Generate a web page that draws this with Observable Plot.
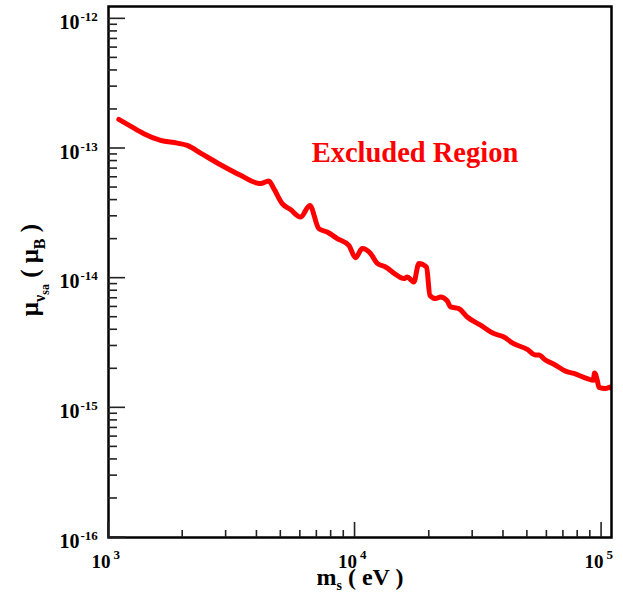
<!DOCTYPE html>
<html>
<head>
<meta charset="utf-8">
<script src="https://cdn.jsdelivr.net/npm/d3@7"></script>
<script src="https://cdn.jsdelivr.net/npm/@observablehq/plot@0.6"></script>
<style>
  html, body { margin: 0; padding: 0; background: #fff; }
  #chart svg { display: block; }
</style>
</head>
<body>
<div id="chart"></div>
<script>
// Sterile-neutrino mass (eV) and the upper limit on its magnetic moment (Bohr magnetons)
const massEV = [
  1101, 1228, 1391, 1626, 1900, 2086, 2362, 2848, 3432, 4011,
  4137, 4470, 4684, 5067, 5474, 6009, 6555, 7131, 7715, 8470,
  9436, 10046, 10695, 11558, 12306, 13298, 14598, 15776, 16285, 17318,
  18148, 19501, 20112, 21213, 22228, 23659, 24400, 26368, 28522, 32290,
  36570, 40160, 43420, 49950, 53990, 55670, 59270, 64060, 71450, 77210,
  87500, 92540, 93660, 96070, 97500, 103800, 108800, 109700
];
const muLimit = [
  1.676e-13, 1.488e-13, 1.300e-13, 1.154e-13, 1.100e-13, 1.056e-13, 9.22e-14, 7.50e-14, 6.21e-14, 5.41e-14,
  5.36e-14, 5.61e-14, 4.90e-14, 3.76e-14, 3.38e-14, 2.96e-14, 3.64e-14, 2.41e-14, 2.27e-14, 2.02e-14,
  1.79e-14, 1.44e-14, 1.69e-14, 1.55e-14, 1.30e-14, 1.22e-14, 1.07e-14, 9.93e-15, 1.02e-14, 9.35e-15,
  1.30e-14, 1.22e-14, 7.38e-15, 6.96e-15, 7.16e-15, 6.67e-15, 6.00e-15, 5.83e-15, 5.02e-15, 4.34e-15,
  3.74e-15, 3.52e-15, 3.17e-15, 2.82e-15, 2.55e-15, 2.55e-15, 2.33e-15, 2.17e-15, 1.92e-15, 1.84e-15,
  1.68e-15, 1.63e-15, 1.86e-15, 1.63e-15, 1.44e-15, 1.41e-15, 1.45e-15, 1.41e-15
];

// Decade ticks and their exponents
const xMajor = [1e3, 1e4, 1e5];
const xExponents = ["3", "4", "5"];
const yMajor = [1e-16, 1e-15, 1e-14, 1e-13, 1e-12];
const yExponents = ["-16", "-15", "-14", "-13", "-12"];
const regionLabel = "Excluded Region";

const data = massEV.map((m, i) => ({m, mu: muLimit[i]}));

// Minor ticks at 2..9 within each decade
const minorBetween = (lo, hi) => {
  const out = [];
  for (let e = lo; e < hi; e++) for (let k = 2; k <= 9; k++) out.push(k * Math.pow(10, e));
  return out;
};
const xMinor = minorBetween(3, 5);
const yMinor = minorBetween(-16, -12);

const serif = "'Liberation Serif', 'Times New Roman', serif";
const xDomain = [1000, 109700];
const yDomain = [1e-16, 1.245e-12];

const W = 623, H = 596;
const margin = {left: 108, right: 12, top: 6, bottom: 59};

const svg = Plot.plot({
  width: W,
  height: H,
  marginLeft: margin.left,
  marginRight: margin.right,
  marginTop: margin.top,
  marginBottom: margin.bottom,
  style: {fontFamily: serif},
  x: {type: "log", domain: xDomain, axis: null},
  y: {type: "log", domain: yDomain, axis: null},
  marks: [
    // the limit curve
    Plot.line(data, {x: "m", y: "mu", curve: "monotone-x", stroke: "#ff0000", strokeWidth: 5, strokeLinejoin: "round", strokeLinecap: "round", clip: true}),
    Plot.text([regionLabel], {x: 17500, y: 9.25e-14, text: d => d, textAnchor: "middle", fontSize: 28.5, fontWeight: "bold", fill: "#ff0000"}),
    // power-of-ten tick labels: base and raised exponent
    Plot.text(yMajor, {frameAnchor: "left", y: d => d, text: () => "10", textAnchor: "end", lineAnchor: "bottom", dx: -29, dy: 10, fontSize: 20, fontWeight: "bold", fill: "#000"}),
    Plot.text(yMajor, {frameAnchor: "left", y: d => d, text: (d, i) => yExponents[i], textAnchor: "start", lineAnchor: "bottom", dx: -28, dy: 2, fontSize: 13, fontWeight: "bold", fill: "#000"}),
    Plot.text(xMajor, {frameAnchor: "bottom", x: d => d, text: () => "10", textAnchor: "end", lineAnchor: "bottom", dx: 2, dy: 30, fontSize: 19, fontWeight: "bold", fill: "#000"}),
    Plot.text(xMajor, {frameAnchor: "bottom", x: d => d, text: (d, i) => xExponents[i], textAnchor: "start", lineAnchor: "bottom", dx: 5, dy: 21, fontSize: 13, fontWeight: "bold", fill: "#000"}),
    Plot.frame({stroke: "#000", strokeWidth: 2.5})
  ]
});

// Inward ticks on the left and bottom edges, placed with the plot's own scales
const xs = svg.scale("x");
const ys = svg.scale("y");
const root = d3.select(svg);
const tickLayer = root.append("g")
  .attr("stroke", "#222")
  .attr("stroke-width", 1.6);
const left = margin.left;
const bottom = H - margin.bottom;
const addYTicks = (ticks, size) => ticks.forEach(v => {
  const py = ys.apply(v);
  tickLayer.append("line").attr("x1", left).attr("x2", left + size).attr("y1", py).attr("y2", py);
});
const addXTicks = (ticks, size) => ticks.forEach(v => {
  const px = xs.apply(v);
  tickLayer.append("line").attr("x1", px).attr("x2", px).attr("y1", bottom).attr("y2", bottom - size);
});
addYTicks(yMinor, 9);
addYTicks(yMajor, 17);
addXTicks(xMinor, 7);
addXTicks(xMajor, 15);

// Axis titles with subscripts
const yTitle = root.append("text")
  .attr("transform", "translate(38,270) rotate(-90)")
  .attr("text-anchor", "middle")
  .style("font-family", serif)
  .style("font-weight", "bold")
  .style("font-size", "25px")
  .attr("fill", "#000");
yTitle.append("tspan").text("\u03bc");
yTitle.append("tspan").attr("dy", 7).style("font-size", "16px").text("\u03bd");
yTitle.append("tspan").attr("dy", 4).style("font-size", "12px").text("sa");
yTitle.append("tspan").attr("dy", -11).text(" ( \u03bc");
yTitle.append("tspan").attr("dy", 7).style("font-size", "16px").text("B");
yTitle.append("tspan").attr("dy", -7).text(" )");

const xTitle = root.append("text")
  .attr("x", 360)
  .attr("y", 585)
  .attr("text-anchor", "middle")
  .style("font-family", serif)
  .style("font-weight", "bold")
  .style("font-size", "24px")
  .attr("fill", "#000");
xTitle.append("tspan").text("m");
xTitle.append("tspan").attr("dy", 5).style("font-size", "14px").text("s");
xTitle.append("tspan").attr("dy", -5).text(" ( eV )");

document.getElementById("chart").appendChild(svg);
</script>
</body>
</html>
